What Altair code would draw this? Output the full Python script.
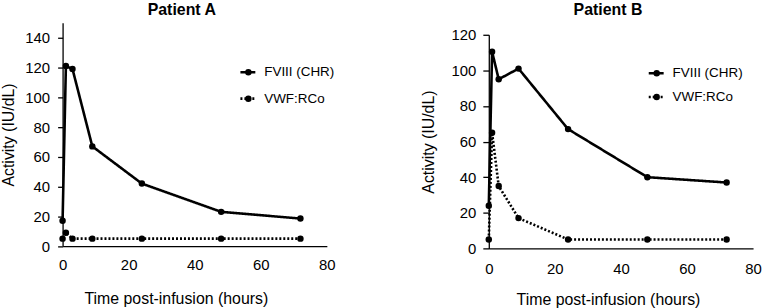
import altair as alt
import pandas as pd

# Sampling times after infusion (hours)
hours = [0, 1, 3, 9, 24, 48, 72]
series = ["FVIII (CHR)", "VWF:RCo"]

# Patient A activity (IU/dL)
a_fviii = [17, 121, 119, 67, 42, 23, 18.5]
a_vwf = [5, 9, 5, 5, 5, 5, 5]

# Patient B activity (IU/dL)
b_fviii = [24, 110.5, 95, 101, 67, 40, 37]
b_vwf = [5, 65, 35, 17, 5, 5, 5]

x_ticks = [0, 20, 40, 60, 80]
FONT = "Liberation Sans"
DASHES = [[1, 0], [2, 2]]
PANEL_W = 266
PANEL_H = 227


def to_long(fviii, vwf):
    rows = []
    for name, vals in zip(series, [fviii, vwf]):
        for t, v in zip(hours, vals):
            rows.append({"series": name, "hours": t, "activity": v})
    return pd.DataFrame(rows)


def panel(title, fviii, vwf, ymax, yticks, y_range, x_offset,
          x_label_pad, x_title_pad, x_title_x, y_tick_size, y_label_pad,
          y_title_pad, leg_x, leg_y, leg_dy):
    df = to_long(fviii, vwf)
    x = alt.X(
        "hours:Q",
        scale=alt.Scale(domain=[0, 80], nice=False, zero=False, padding=0),
        axis=alt.Axis(values=x_ticks, title="Time post-infusion (hours)",
                      ticks=False, grid=False, labelFlush=False,
                      labelPadding=x_label_pad, titlePadding=x_title_pad,
                      titleX=x_title_x, offset=x_offset, format="d"),
    )
    y = alt.Y(
        "activity:Q",
        scale=alt.Scale(domain=[0, ymax], range=y_range, nice=False,
                        padding=0),
        axis=alt.Axis(values=yticks, title="Activity (IU/dL)", grid=False,
                      labelFlush=False, tickSize=y_tick_size,
                      labelPadding=y_label_pad, titlePadding=y_title_pad,
                      format="d"),
    )
    dash = alt.StrokeDash("series:N",
                          scale=alt.Scale(domain=series, range=DASHES),
                          legend=None)
    lines = alt.Chart(df).mark_line(color="black", strokeWidth=2.6).encode(
        x=x, y=y, strokeDash=dash, detail="series:N")
    points = alt.Chart(df).mark_point(filled=True, color="black", size=42,
                                      opacity=1).encode(x=x, y=y)

    layers = [lines, points]
    # in-plot key: short line, marker and series name
    for i, name in enumerate(series):
        key = alt.Chart(pd.DataFrame({"name": [name]}))
        yy = leg_y + i * leg_dy
        layers.append(key.mark_rule(color="black", strokeWidth=2.6,
                                    strokeDash=DASHES[i]).encode(
            x=alt.value(leg_x), x2=alt.value(leg_x + 15), y=alt.value(yy)))
        layers.append(key.mark_point(filled=True, color="black", size=42,
                                     opacity=1).encode(
            x=alt.value(leg_x + 8), y=alt.value(yy)))
        layers.append(key.mark_text(align="left", baseline="middle",
                                    font=FONT, fontSize=13.5,
                                    color="black").encode(
            x=alt.value(leg_x + 24), y=alt.value(yy), text="name:N"))

    return alt.layer(*layers).properties(
        width=PANEL_W,
        height=PANEL_H,
        title=alt.TitleParams(title, fontSize=16, fontWeight="bold",
                              font=FONT, color="black", anchor="middle",
                              offset=5, dx=-13),
    )


panel_a = panel("Patient A", a_fviii, a_vwf, 150, list(range(0, 141, 20)),
                y_range=[224.7, 0], x_offset=-2.3, x_label_pad=12,
                x_title_pad=18, x_title_x=114, y_tick_size=5, y_label_pad=8,
                y_title_pad=8, leg_x=179, leg_y=49.7, leg_dy=26.6)
panel_b = panel("Patient B", b_fviii, b_vwf, 120, list(range(0, 121, 20)),
                y_range=[227, 12], x_offset=0, x_label_pad=13,
                x_title_pad=15, x_title_x=120, y_tick_size=6, y_label_pad=7,
                y_title_pad=15, leg_x=161, leg_y=50.7, leg_dy=24)

chart = alt.hconcat(panel_a, panel_b, spacing=84).properties(
    padding={"left": 0, "top": 1, "right": 0, "bottom": 0}
).configure_view(stroke=None).configure_axis(
    labelFont=FONT, titleFont=FONT, labelFontSize=15, titleFontSize=16,
    titleFontWeight="normal", labelColor="black", titleColor="black",
    domainColor="black", tickColor="black", domainWidth=1.3, tickWidth=1.3,
)

chart.save("out.html", embed_options={"renderer": "svg", "actions": False})
